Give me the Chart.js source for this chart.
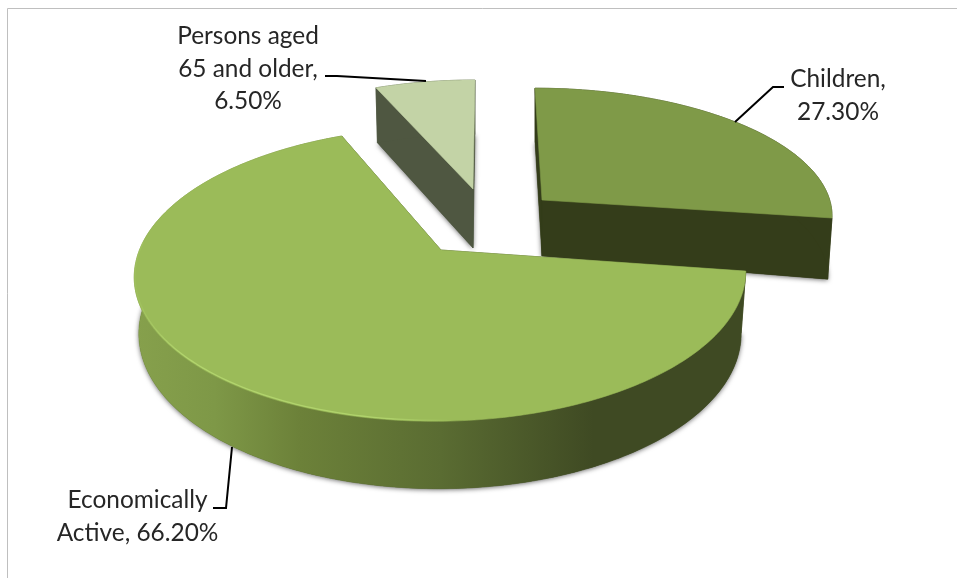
<!DOCTYPE html>
<html>
<head>
<meta charset="utf-8">
<style>
  html, body { margin: 0; padding: 0; background: #ffffff; }
  #wrap { position: absolute; left: 0; top: 0; width: 957px; height: 578px; }
</style>
<script src="https://cdn.jsdelivr.net/npm/chart.js@4"></script>
</head>
<body>
<div id="wrap"><canvas id="pie" width="957" height="578"></canvas></div>
<script>
// Population shares by age group
const categories = ['Children', 'Economically Active', 'Persons aged 65 and older'];
const shares = [27.3, 66.2, 6.5];
const labelLines = [
  ['Children,', '27.30%'],
  ['Economically', 'Active, 66.20%'],
  ['Persons aged', '65 and older,', '6.50%']
];
const topColors = ['#7f9a48', '#9bbb59', '#c3d3a6'];
const sideColors = ['#343d1a', '#3f4a23', '#4f5741'];

// Per-slice view of the tilted disc: each exploded wedge gets its own projection.
const views = [
  { cx: 542, cy: 200, rx: 287.7, ry: 123, k: 0.10, s: -7.7, h0: 56, hk: 0.03, hx: 5 },
  { cx: 441, cy: 250, rx: 301.5, ry: 143, k: 0.165, s: 6, h0: 58, hk: 0.14, hx: 3 },
  { cx: 473, cy: 189, rx: 286.6, ry: 127, k: 0.165, s: 2.3, h0: 59, hk: 0.08, hx: 0 }
];
const depthScale = 0.985;

function topPoint(v, X, Y) {
  const d = 1 + v.k * Y;
  return { x: v.cx + (v.rx * X + v.s * Y) / d, y: v.cy - v.ry * Y / d };
}
function basePoint(v, X, Y) {
  const p = topPoint(v, X, Y);
  return {
    x: v.cx + (p.x - v.cx) * depthScale,
    y: p.y + v.h0 / (1 + v.hk * Y) + v.hx * X
  };
}
function rimSamples(arc) {
  // Chart.js angles start at 3 o'clock; the disc coordinates use Y towards the back.
  const n = Math.max(8, Math.ceil((arc.endAngle - arc.startAngle) * 60));
  const out = [];
  for (let i = 0; i <= n; i++) {
    const a = arc.startAngle + (arc.endAngle - arc.startAngle) * i / n;
    out.push({ X: Math.cos(a), Y: -Math.sin(a) });
  }
  return out;
}
function tracePath(ctx, pts) {
  ctx.beginPath();
  pts.forEach((p, i) => i ? ctx.lineTo(p.x, p.y) : ctx.moveTo(p.x, p.y));
  ctx.closePath();
}
function paintPoly(ctx, pts, fill) {
  tracePath(ctx, pts);
  ctx.fillStyle = fill;
  ctx.strokeStyle = fill;
  ctx.lineWidth = 0.6;
  ctx.fill();
  ctx.stroke();
}
function wallGradient(ctx) {
  const g = ctx.createLinearGradient(135, 0, 746, 0);
  g.addColorStop(0, '#86a04c');
  g.addColorStop(0.13, '#7e9847');
  g.addColorStop(0.27, '#6c8139');
  g.addColorStop(0.5, '#5a6c32');
  g.addColorStop(0.75, '#3f4a23');
  g.addColorStop(1, '#3f4a23');
  return g;
}

const solidPie = {
  id: 'solidPie',
  afterDatasetsDraw(chart) {
    const ctx = chart.ctx;
    const arcs = chart.getDatasetMeta(0).data;
    ctx.save();
    ctx.lineJoin = 'round';
    // Back wedges first so the large front wedge overlaps them.
    [2, 0, 1].forEach(i => {
      const arc = arcs[i], v = views[i];
      const rim = rimSamples(arc);
      const topRim = rim.map(p => topPoint(v, p.X, p.Y));
      const baseRim = rim.map(p => basePoint(v, p.X, p.Y));
      const topApex = topPoint(v, 0, 0), baseApex = basePoint(v, 0, 0);

      // soft ground shadow cast by the bottom face
      ctx.save();
      ctx.shadowColor = 'rgba(0,0,0,0.6)';
      ctx.shadowBlur = 5;
      ctx.shadowOffsetY = 1;
      tracePath(ctx, [baseApex, ...baseRim]);
      ctx.fillStyle = sideColors[i];
      ctx.fill();
      ctx.restore();

      // flat cut faces
      paintPoly(ctx, [topApex, topRim[0], baseRim[0], baseApex], sideColors[i]);
      paintPoly(ctx, [topApex, topRim[topRim.length - 1], baseRim[baseRim.length - 1], baseApex], sideColors[i]);

      // curved outer wall
      const wallFill = i === 1 ? wallGradient(ctx) : sideColors[i];
      paintPoly(ctx, [...topRim, ...baseRim.slice().reverse()], wallFill);

      // top face
      paintPoly(ctx, [topApex, ...topRim], topColors[i]);

      // bevel highlight along the near-left rim
      if (i === 1) {
        const g = ctx.createLinearGradient(135, 0, 450, 0);
        g.addColorStop(0, 'rgba(190,226,120,0.1)');
        g.addColorStop(0.15, 'rgba(190,226,120,0.65)');
        g.addColorStop(0.8, 'rgba(190,226,120,0.6)');
        g.addColorStop(1, 'rgba(190,226,120,0)');
        ctx.beginPath();
        topRim.forEach((p, j) => {
          if (rim[j].Y < 0.05 && rim[j].X < 0.1) {
            ctx.lineTo(p.x + 0.7, p.y - 1);
          }
        });
        ctx.strokeStyle = g;
        ctx.lineWidth = 1.3;
        ctx.stroke();
      }
    });
    ctx.restore();
  }
};

const leaderLines = [
  [[784, 87], [773, 87], [735, 122]],
  [[213, 508], [226, 508], [232, 447]],
  [[325, 76], [337, 76], [426, 81]]
];
const labelAnchors = [
  { x: 838, y: 87 },
  { x: 137.5, y: 508 },
  { x: 248, y: 44 }
];

const sliceLabels = {
  id: 'sliceLabels',
  afterDraw(chart) {
    const ctx = chart.ctx;
    ctx.save();
    // chart frame
    ctx.strokeStyle = '#bfbfbf';
    ctx.lineWidth = 1;
    ctx.beginPath();
    ctx.moveTo(7.5, 578);
    ctx.lineTo(7.5, 8.5);
    ctx.lineTo(957, 8.5);
    ctx.stroke();

    ctx.strokeStyle = '#000000';
    ctx.lineWidth = 2;
    leaderLines.forEach(line => {
      ctx.beginPath();
      line.forEach((p, i) => i ? ctx.lineTo(p[0], p[1]) : ctx.moveTo(p[0], p[1]));
      ctx.stroke();
    });

    ctx.fillStyle = '#262626';
    ctx.font = '24.4px Lato';
    ctx.textAlign = 'center';
    ctx.textBaseline = 'alphabetic';
    labelLines.forEach((lines, i) => {
      const a = labelAnchors[i];
      lines.forEach((t, j) => ctx.fillText(t, a.x, a.y + j * 32.5));
    });
    ctx.restore();
  }
};

new Chart(document.getElementById('pie'), {
  type: 'pie',
  data: {
    labels: categories,
    datasets: [{
      data: shares,
      backgroundColor: 'rgba(0,0,0,0)',
      borderWidth: 0
    }]
  },
  options: {
    responsive: false,
    animation: false,
    plugins: { legend: { display: false }, tooltip: { enabled: false } }
  },
  plugins: [solidPie, sliceLabels]
});
</script>
</body>
</html>
